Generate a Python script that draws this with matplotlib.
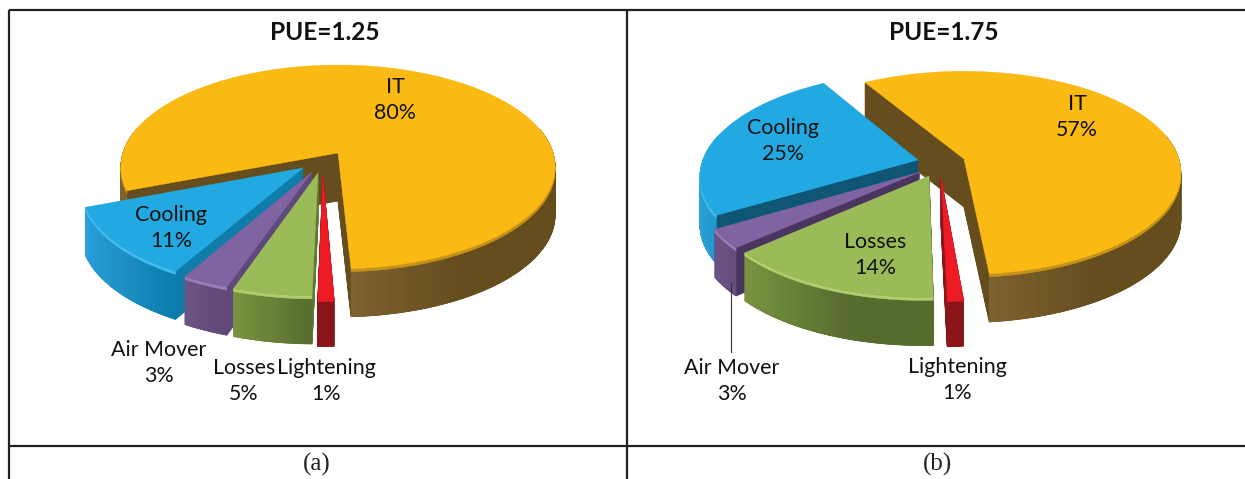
import numpy as np
import matplotlib
matplotlib.use("Agg")
import matplotlib.pyplot as plt
from matplotlib.patches import Wedge
from matplotlib.transforms import Transform, Affine2D
from matplotlib.collections import PolyCollection
from matplotlib.colors import to_rgb

# ---------- data ----------
labels = ["IT", "Lightening", "Losses", "Air Mover", "Cooling"]
values_a = [80, 1, 5, 3, 11]
values_b = [57, 1, 14, 3, 25]
title_a = "PUE=1.25"
title_b = "PUE=1.75"
caption_a = "(a)"
caption_b = "(b)"

# ---------- styles / layout (pixels of the 1245x479 canvas) ----------
W, H = 1245, 479
face = ["#FBBA13", "#ED1C24", "#9BBB59", "#8064A2", "#23A9E1"]
inner_a = ["#654D1E", "#8B1518", "#5F7A33", "#5E4A7A", "#0F7CA9"]
inner_b = ["#654D1E", "#8B1518", "#566B2E", "#4A3560", "#0F5575"]
side_l = ["#7E6230", "#8B1518", "#7A9440", "#6C5488", "#2A9FD8"]
side_r = ["#654D1E", "#861418", "#566B2E", "#5A3F6A", "#0F7FB0"]
rim = ["#C8951A", "#ED1C24", "#B4D070", "#9880B8", "#45BDF0"]
DEPTH = 48
RX, RY, K = 215.0, 100.0, 0.137
FONT = "Lato"
PAINT_ORDER = [0, 4, 3, 2, 1]


class Perspective(Transform):
    """Unit disk -> tilted ellipse on the canvas."""
    input_dims = output_dims = 2
    is_separable = False
    has_inverse = False

    def __init__(self, cx, cy):
        super().__init__()
        self.cx, self.cy = cx, cy

    def transform_non_affine(self, xy):
        xy = np.asarray(xy, float)
        w = 1 + K * xy[:, 1]
        return np.c_[self.cx + RX * xy[:, 0] / w, self.cy - RY * xy[:, 1] / w]


def disk_offset(apex, origin):
    """Disk position whose projection lands on the given canvas apex."""
    u = (apex[0] - origin[0]) / RX
    v = (origin[1] - apex[1]) / RY
    w = 1 / (1 - K * v)
    return u * w, v * w


def draw_pie(ax, values, start, origin, apexes, inner):
    wedges, _ = ax.pie(values, startangle=start, counterclock=False, colors=face,
                       radius=1, normalize=True)
    angles = [(w.theta1, w.theta2) for w in wedges]
    for w in wedges:
        w.remove()
    persp = Perspective(*origin)
    for rank, i in enumerate(PAINT_ORDER):
        z = rank + 1
        t1, t2 = angles[i]
        base = Affine2D().translate(*disk_offset(apexes[i], origin)) + persp
        # solid body
        for d in range(DEPTH, 0, -1):
            body = Wedge((0, 0), 1, t1, t2, fc=inner[i], ec=inner[i], lw=0.6, zorder=z)
            body.set_transform(base + Affine2D().translate(0, d) + ax.transData)
            ax.add_patch(body)
        # outer wall, shaded from the left of the slice to the right
        th = np.radians(np.linspace(t1, t2, int(t2 - t1) * 2 + 2))
        pts = base.transform(np.c_[np.cos(th), np.sin(th)])
        front = np.sin(th) < 0.25
        front_x = pts[front, 0]
        x0 = pts[0, 0] if i == 0 else front_x.min()
        span = 60 + 0.25 * max(front_x.max() - x0, 1)
        cl, cr = np.array(to_rgb(side_l[i])), np.array(to_rgb(side_r[i]))
        walls, cols, bevel = [], [], []
        for j in range(len(th) - 1):
            if not (front[j] and front[j + 1]):
                continue
            a, b = pts[j], pts[j + 1]
            walls.append([a, b, b + [0, DEPTH], a + [0, DEPTH]])
            bevel.append([a, b, b + [0, 3], a + [0, 3]])
            f = np.clip((min(a[0], b[0]) - x0) / span, 0, 1)
            cols.append(cl + (cr - cl) * f)
        ax.add_collection(PolyCollection(walls, facecolors=cols, edgecolors=cols,
                                         linewidths=0.5, zorder=z + 0.1))
        ax.add_collection(PolyCollection(bevel, facecolors=rim[i], edgecolors=rim[i],
                                         linewidths=0.3, zorder=z + 0.2))
        # top face
        top = Wedge((0, 0), 1, t1, t2, fc=face[i], ec=face[i], lw=0.3, zorder=z + 0.3)
        top.set_transform(base + ax.transData)
        ax.add_patch(top)


def put_labels(ax, values, where):
    for lab, val, (x, y) in zip(labels, values, where):
        ax.text(x, y, f"{lab}\n{val}%", ha="center", va="center", fontsize=15.4,
                family=FONT, color="#111111", linespacing=1.38, zorder=20)


fig = plt.figure(figsize=(W / 100, H / 100), dpi=100, facecolor="white")
ax = fig.add_axes([0, 0, 1, 1])

draw_pie(ax, values_a, 201, (338, 153),
         [(338, 153), (323, 175), (318, 173), (312, 172), (303, 168)], inner_a)
draw_pie(ax, values_b, 121, (963, 160),
         [(964, 159), (941, 177), (929, 176), (920, 172), (918, 160)], inner_b)

ax.set_aspect("auto")
ax.set_xlim(0, W)
ax.set_ylim(H, 0)
ax.set_frame_on(False)
ax.set_xticks([])
ax.set_yticks([])

put_labels(ax, values_a, [(395, 100), (326, 381), (244, 381), (159, 363), (171, 228)])
put_labels(ax, values_b, [(1077, 117), (957, 380), (875, 255), (732, 381), (783, 141)])

ax.plot([731, 731], [283, 352], color="#333333", lw=0.8, zorder=6)

for x, t in ((325, title_a), (944, title_b)):
    ax.text(x, 32, t, ha="center", va="center", fontsize=17.6, weight="bold",
            family=FONT, color="#111111", zorder=20)
for x, t in ((317, caption_a), (937, caption_b)):
    ax.text(x, 464, t, ha="center", va="center", fontsize=18,
            family="Liberation Serif", color="#222222", zorder=20)

line = dict(color="#222222", lw=1.6, zorder=30, solid_capstyle="butt")
ax.plot([9, W], [10, 10], **line)
ax.plot([9, W], [446, 446], **line)
ax.plot([9, 9], [10, H], **line)
ax.plot([627, 627], [10, H], **line)

fig.savefig("out.png", dpi=100)
